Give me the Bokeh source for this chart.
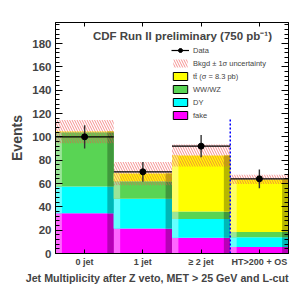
import numpy as np
from bokeh.plotting import figure
from bokeh.models import (ColumnDataSource, LinearAxis, FixedTicker, SingleIntervalTicker,
                          Legend, LegendItem, Label, Range1d, CustomJSTickFormatter, Title)
from bokeh.embed import file_html
from bokeh.resources import INLINE

# ---------------- data ----------------
categories = ["0 jet", "1 jet", "\u2265 2 jet", "HT>200 + OS"]
fake = [34.5, 21.5, 13.5, 5.5]
dy = [23.0, 25.5, 16.0, 8.5]
wwwz = [46.5, 15.0, 6.5, 4.5]
ttbar = [0.5, 6.5, 48.0, 45.0]
bkgd_err = [10.0, 10.0, 9.5, 4.0]
data = [100, 70, 92, 64]
data_err = [10.0, 8.4, 9.6, 8.0]
separator_x = 3
separator_top = 115

FONT = "Liberation Sans"
HATCH = dict(hatch_pattern="\\", hatch_color="#f05050", hatch_scale=5,
             hatch_weight=0.8, hatch_alpha=0.8)

# ---------------- figure ----------------
p = figure(width=303, height=291, output_backend="svg", toolbar_location=None,
           x_range=Range1d(0, 4), y_range=Range1d(0, 198),
           min_border_left=55, min_border_right=15, min_border_top=22, min_border_bottom=38)
p.grid.visible = False
p.outline_line_color = "black"
p.outline_line_width = 1
p.background_fill_color = "white"
p.border_fill_color = "white"

n = len(categories)
left = np.arange(n, dtype=float)
right = left + 1
centers = left + 0.5

layers = [
    (fake, "#ff00ff"),
    (dy, "#00ffff"),
    (wwwz, "#59d454"),
    (ttbar, "#ffff00"),
]


def shade(hexcol, f):
    h = hexcol.lstrip("#")
    r, g, b = (int(h[i:i + 2], 16) for i in (0, 2, 4))
    if f < 1:
        r, g, b = (int(c * f) for c in (r, g, b))
    else:
        t = f - 1
        r, g, b = (int(c + (255 - c) * t) for c in (r, g, b))
    return "#%02x%02x%02x" % (r, g, b)


strip = 0.11
base = np.zeros(n)
legend_boxes = {}
for vals, col in layers:
    vals = np.array(vals, dtype=float)
    top = base + vals
    src = ColumnDataSource(dict(left=left, right=right, bottom=base.copy(), top=top))
    p.quad(left="left", right="right", bottom="bottom", top="top", source=src,
           fill_color=col, line_color=None)
    srcl = ColumnDataSource(dict(left=left, right=left + strip, bottom=base.copy(), top=top))
    p.quad(left="left", right="right", bottom="bottom", top="top", source=srcl,
           fill_color=shade(col, 1.4), line_color=None)
    srcr = ColumnDataSource(dict(left=right - strip, right=right, bottom=base.copy(), top=top))
    p.quad(left="left", right="right", bottom="bottom", top="top", source=srcr,
           fill_color=shade(col, 0.72), line_color=None)
    # legend-only (hidden) renderer with black outline
    lb = p.quad(left="left", right="right", bottom="bottom", top="top", source=src,
                fill_color=col, line_color="black", line_width=1)
    lb.visible = False
    legend_boxes[col] = lb
    base = top

total = base
err = np.array(bkgd_err)
band_src = ColumnDataSource(dict(left=left, right=right, bottom=total - err, top=total + err))
band = p.quad(left="left", right="right", bottom="bottom", top="top", source=band_src,
              fill_color=None, line_color=None, **HATCH)

# separator
p.segment(x0=[separator_x], y0=[0], x1=[separator_x], y1=[separator_top],
          line_color="#0000ff", line_width=1.5, line_dash="2 2")

# data
d = np.array(data, dtype=float)
de = np.array(data_err)
dsrc = ColumnDataSource(dict(x=centers, y=d, x0=left, x1=right, y0=d - de, y1=d + de))
p.segment(x0="x0", y0="y", x1="x1", y1="y", source=dsrc, line_color="black", line_width=1.2)
p.segment(x0="x", y0="y0", x1="x", y1="y1", source=dsrc, line_color="#333333", line_width=1.4)
pts = p.scatter(x="x", y="y", source=dsrc, size=6, marker="circle", fill_color="black", line_color="black")
l_line = p.line(x="x", y="y", source=dsrc, line_color="black", line_width=1.2)
l_line.visible = False

# ---------------- axes ----------------
ya = p.yaxis[0]
ya.ticker = SingleIntervalTicker(interval=20, num_minor_ticks=5)
ya.axis_label = "Events"
ya.axis_label_text_font = FONT
ya.axis_label_text_font_style = "bold"
ya.axis_label_text_font_size = "14px"
ya.axis_label_standoff = 4
ya.major_label_text_font = FONT
ya.major_label_text_font_style = "bold"
ya.major_label_text_font_size = "11.5px"
ya.major_label_standoff = 4
ya.major_tick_in = 7
ya.major_tick_out = 0
ya.minor_tick_in = 4
ya.minor_tick_out = 0
ya.axis_line_color = "black"

xa = p.xaxis[0]
xa.ticker = FixedTicker(ticks=list(centers))
xa.major_label_overrides = {float(c): lab for c, lab in zip(centers, categories)}
xa.major_label_text_font = FONT
xa.major_label_text_font_style = "bold"
xa.major_label_text_font_size = "9px"
xa.major_label_standoff = 3
xa.major_tick_in = 4
xa.major_tick_out = 0
xa.minor_tick_line_color = None

# x-axis title, right-aligned to the end of the axis (ROOT style)
p.add_layout(Title(text="Jet Multiplicity after Z veto, MET > 25 GeV and L-cut",
                   align="right", text_font=FONT, text_font_style="bold",
                   text_font_size="10.7px", text_line_height=0.85,
                   standoff=0, offset=0), "below")

blank = CustomJSTickFormatter(code="return ''")
ra = LinearAxis(ticker=SingleIntervalTicker(interval=20, num_minor_ticks=5),
                formatter=blank, major_label_standoff=0,
                major_tick_in=7, major_tick_out=0, minor_tick_in=4, minor_tick_out=0)
p.add_layout(ra, "right")
ta = LinearAxis(ticker=FixedTicker(ticks=list(centers)), formatter=blank,
                major_label_standoff=0, major_tick_in=4, major_tick_out=0,
                minor_tick_line_color=None)
p.add_layout(ta, "above")

# ---------------- title ----------------
p.add_layout(Label(x=2.18, y=186.5, text="CDF Run II preliminary (750 pb\u207b\u00b9)",
                   text_align="center", text_baseline="middle", text_font=FONT,
                   text_font_style="bold", text_font_size="11.5px"))

# ---------------- legend ----------------
legend_labels = ["Data", "Bkgd \u00b1 1\u03c3 uncertainty", "tt\u0304 (\u03c3 = 8.3 pb)", "WW/WZ", "DY", "fake"]
items = [LegendItem(label=legend_labels[0], renderers=[l_line, pts]),
         LegendItem(label=legend_labels[1], renderers=[band])]
for lab, col in zip(legend_labels[2:], ["#ffff00", "#59d454", "#00ffff", "#ff00ff"]):
    items.append(LegendItem(label=lab, renderers=[legend_boxes[col]]))
legend = Legend(items=items, location=(116, 133), glyph_width=18, glyph_height=10,
                label_height=10, spacing=3, padding=0, margin=0, label_standoff=4,
                border_line_color=None, background_fill_alpha=0, inactive_fill_alpha=0,
                label_text_font=FONT, label_text_font_size="7.5px")
p.add_layout(legend)

open("out.html", "w").write(file_html(p, INLINE))
